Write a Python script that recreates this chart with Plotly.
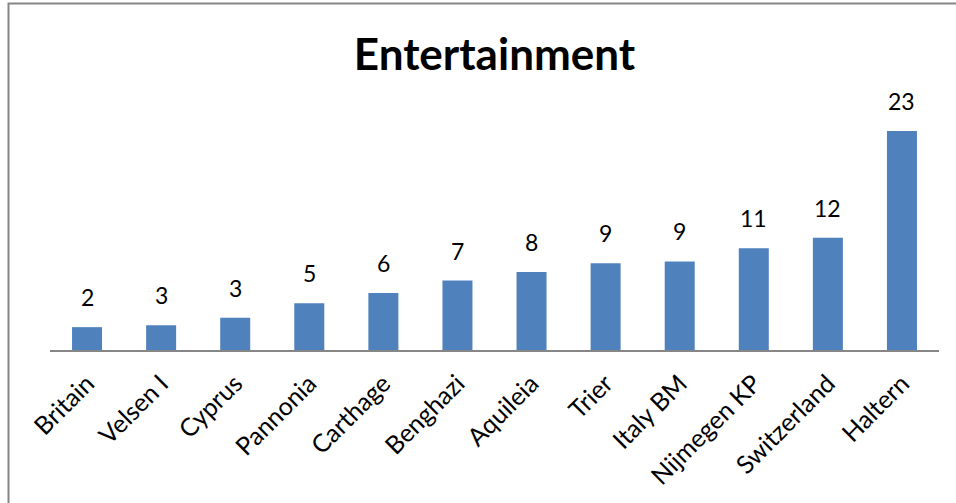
import plotly.graph_objects as go

categories = ["Britain", "Velsen I", "Cyprus", "Pannonia", "Carthage", "Benghazi",
              "Aquileia", "Trier", "Italy BM", "Nijmegen KP", "Switzerland", "Haltern"]
values = [2.4, 2.6, 3.4, 4.9, 6.0, 7.3, 8.2, 9.1, 9.3, 10.7, 11.8, 23.0]
labels = [str(round(v)) for v in values]

W, H = 956, 503
ml, mr, mt, mb = 50, 17, 112, 153
pw, ph = W - ml - mr, H - mt - mb

def px_x(p):
    return (p - ml) / pw

def px_y(p):
    return (H - mb - p) / ph

fig = go.Figure()
fig.add_trace(go.Bar(
    x=categories, y=values,
    marker=dict(color="#4F81BD", line=dict(width=0)),
    hoverinfo="skip",
))

for c, v, t in zip(categories, values, labels):
    fig.add_annotation(x=c, y=v, text=t, showarrow=False, yanchor="bottom",
                       yshift=14, font=dict(family="Lato", size=23, color="#000000"))

fig.add_shape(type="rect", xref="paper", yref="paper",
              x0=px_x(8.5), x1=px_x(970), y0=px_y(3.5), y1=px_y(520),
              line=dict(color="#868686", width=2), layer="below")

fig.update_layout(
    width=W, height=H,
    margin=dict(l=ml, r=mr, t=mt, b=mb, autoexpand=False),
    paper_bgcolor="white", plot_bgcolor="white",
    bargap=0.595,
    showlegend=False,
    title=dict(text="<b>Entertainment</b>", x=0.5, xref="paper", xanchor="center",
               y=1 - 55 / H, yanchor="middle",
               font=dict(family="Lato", size=44, color="#000000")),
    xaxis=dict(tickangle=-45, showline=True, linecolor="#868686", linewidth=2,
               ticks="", showgrid=False, ticklabelstandoff=7, automargin=False,
               tickfont=dict(family="Lato", size=25, color="#000000")),
    yaxis=dict(range=[0, 25], visible=False, showgrid=False, zeroline=False,
               automargin=False),
)

fig.write_html("out.html")
